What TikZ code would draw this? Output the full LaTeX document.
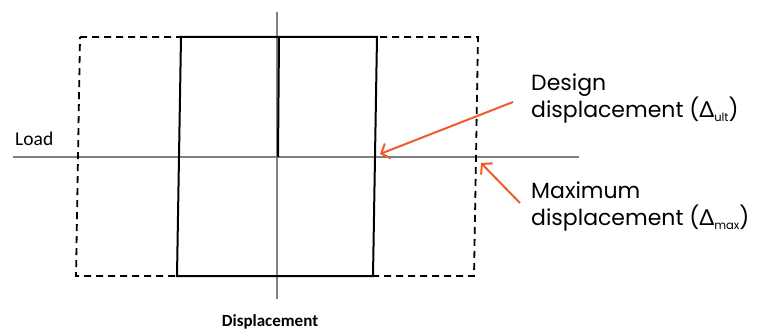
\documentclass[tikz,border=0pt]{standalone}
\usepackage{fontspec}
\setmainfont{Poppins}
\newfontfamily\axisfont{Carlito}
\newfontfamily\greekfont{Lato}
\usetikzlibrary{arrows.meta}
\definecolor{callout}{HTML}{F15A29}
\definecolor{axisgray}{HTML}{808080}
\newcommand{\subtxt}[1]{\raisebox{-4.5pt}{\fontsize{11.5}{12}\selectfont #1}}
\newcommand{\dlt}{{\greekfont Δ}}
\tikzset{
  axisline/.style={draw=axisgray, line width=1.1pt},
  loopline/.style={draw=black, line width=2pt},
  envelope/.style={draw=black, line width=1.8pt, dash pattern=on 7pt off 5pt},
  callarrow/.style={draw=callout, line width=2pt, -{Straight Barb[length=7pt,width=16pt,line width=2pt]}},
  caption/.style={font=\fontsize{22}{27}\selectfont, align=left, anchor=west, inner sep=0pt},
  axislabel/.style={font=\axisfont\fontsize{17}{19}\selectfont, inner sep=0pt}
}
\begin{document}
\begin{tikzpicture}[x=1pt,y=-1pt]
  \useasboundingbox (0,0) rectangle (767,331);
  % axes
  \coordinate (xl) at (13,157);
  \coordinate (xr) at (579,157);
  \coordinate (yt) at (277,12);
  \coordinate (yb) at (277,299);
  \draw[axisline] (xl) -- (xr);
  \draw[axisline] (yt) -- (yb);
  % maximum displacement envelope
  \coordinate (e1) at (80,37);
  \coordinate (e2) at (478,37);
  \coordinate (e3) at (474,276);
  \coordinate (e4) at (76,276);
  \draw[envelope] (e1) -- (e2) -- (e3) -- (e4) -- cycle;
  % design hysteresis loop
  \coordinate (s1) at (181,37);
  \coordinate (s2) at (377,37);
  \coordinate (s3) at (373,276);
  \coordinate (s4) at (177,276);
  \coordinate (m1) at (279,37);
  \coordinate (m2) at (278,157);
  \draw[loopline] (s1) -- (s2) -- (s3) -- (s4) -- cycle;
  \draw[loopline] (m1) -- (m2);
  % axis labels
  \node[axislabel, anchor=west, font=\axisfont\fontsize{19.5}{21}\selectfont] (load) at (15,139) {Load};
  \node[axislabel, anchor=center] (disp) at (270,322) {\bfseries Displacement};
  % callouts
  \node[caption] (design) at (531,98) {Design\\displacement (\dlt\subtxt{ult})};
  \node[caption] (maxd) at (531,206) {Maximum\\displacement (\dlt\subtxt{max})};
  \coordinate (dtip) at (380,154);
  \coordinate (mtip) at (481,163);
  \draw[callarrow] (513,102) -- (dtip);
  \draw[callarrow] (520,203) -- (mtip);
\end{tikzpicture}
\end{document}
